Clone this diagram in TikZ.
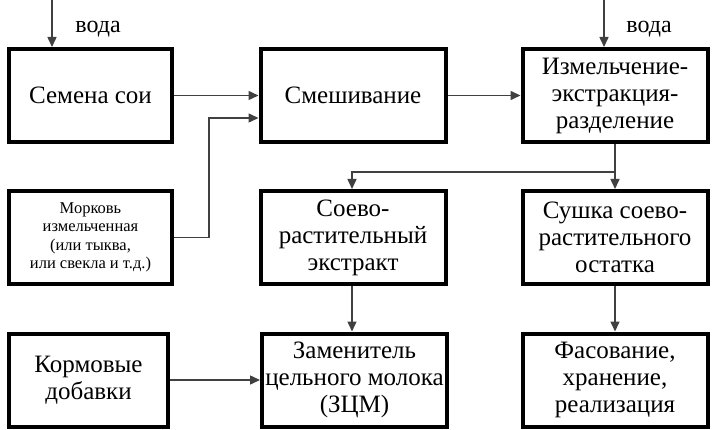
\documentclass[tikz,border=0pt]{standalone}
\usepackage{fontspec}
\setmainfont{Liberation Serif}
\newfontfamily\tnr{Liberation Serif}
\usetikzlibrary{arrows.meta,positioning,calc}
\begin{document}
\begin{tikzpicture}[x=1pt,y=-1pt,
  box/.style={draw=black,line width=4pt,fill=white,align=center,inner sep=1pt,
    font=\tnr\fontsize{25}{27}\selectfont},
  col1/.style={minimum width=163pt,minimum height=93pt},
  col2/.style={minimum width=185pt,minimum height=93pt},
  small/.style={font=\tnr\fontsize{16.5}{18.5}\selectfont},
  arr/.style={draw=black!75,line width=1.5pt,-{Triangle[length=10pt,width=9pt]}},
  lbl/.style={font=\tnr\fontsize{24}{26}\selectfont,inner sep=0pt}]
\useasboundingbox (0,0) rectangle (714,430);
% row 1
\node[box,col1] (b1) at (90.5,95.5) {Семена сои};
\node[box,col2] (b2) at (353,95.5) {Смешивание};
\node[box,col2] (b3) at (615,95.5) {Измельчение-\\экстракция-\\разделение};
% row 2
\node[box,col1,small] (m) at (90.5,237.5) {Морковь\\измельченная\\(или тыква,\\или свекла и т.д.)};
\node[box,col2] (s) at (353,237.5) {Соево-\\растительный\\экстракт};
\node[box,col2] (su) at (615,237.5) {Сушка соево-\\растительного\\остатка};
% row 3
\node[box,col1,minimum width=159pt] (k) at (88.5,380) {Кормовые\\добавки};
\node[box,col2] (z) at (354.5,380) {Заменитель\\цельного молока\\(ЗЦМ)};
\node[box,col2] (f) at (615,380) {Фасование,\\хранение,\\реализация};
% labels
\node[lbl] (v1) at (98,29) {вода};
\node[lbl] (v2) at (649,29) {вода};
% coordinates
\coordinate (w1) at (52,0);
\coordinate (w3) at (604,0);
\coordinate (c1) at (209,118);
\coordinate (j) at (352,172);
% connectors
\draw[arr] (w1) -- (w1 |- b1.north);
\draw[arr] (w3) -- (w3 |- b3.north);
\draw[arr] (b1.east) -- (b2.west);
\draw[arr] (m.east) -| (c1) -- (c1 -| b2.west);
\draw[arr] (b2.east) -- (b3.west);
\draw[arr] (b3.south) -- (su.north);
\draw[arr] (b3.south) |- (j) -- (j |- s.north);
\draw[arr] (j |- s.south) -- (j |- z.north);
\draw[arr] (su.south) -- (f.north);
\draw[arr] (k.east) -- (z.west);
\end{tikzpicture}
\end{document}
